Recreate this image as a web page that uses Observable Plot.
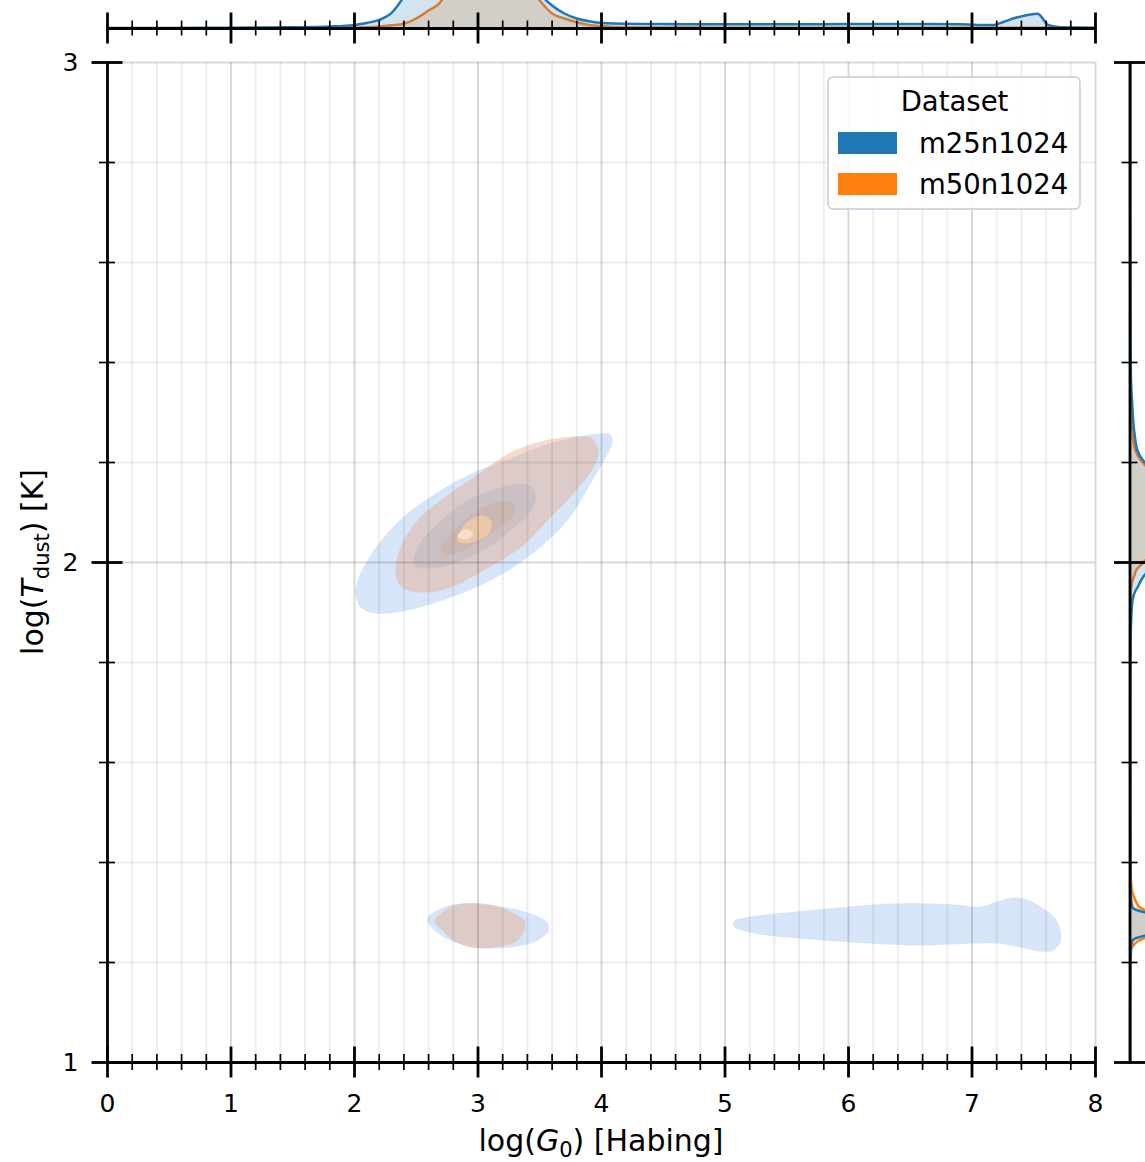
<!DOCTYPE html>
<html><head><meta charset="utf-8">
<script src="https://cdn.jsdelivr.net/npm/d3@7"></script>
<script src="https://cdn.jsdelivr.net/npm/@observablehq/plot@0.6"></script>
<style>
html,body{margin:0;padding:0;background:#fff;}
#wrap{position:relative;width:1145px;height:1162px;overflow:hidden;font-family:"DejaVu Sans",sans-serif;color:#000;}
#wrap svg{position:absolute;left:0;top:0;}
</style></head><body><div id="wrap"></div>
<script>
// ---------------- data ----------------
const datasets = ["m25n1024", "m50n1024"];
const colors = ["#1f77b4", "#ff7f0e"];
const xMajor = [0, 1, 2, 3, 4, 5, 6, 7, 8];
const yMajor = [1, 2, 3];
const xLabel = ["log(", "G", "0", ") [Habing]"];
const yLabel = ["log(", "T", "dust", ") [K]"];
const legendTitle = "Dataset";

// 2D KDE contour outlines (log G0, log Tdust)
const m25MainL1 = [[2.008,1.938],[2.024,1.964],[2.105,2.004],[2.235,2.05],[2.429,2.098],[2.696,2.144],[2.964,2.18],[3.182,2.2],[3.506,2.232],[3.773,2.25],[3.992,2.258],[4.073,2.256],[4.089,2.24],[4.057,2.22],[3.935,2.168],[3.725,2.084],[3.401,2.01],[3.101,1.964],[2.777,1.93],[2.429,1.904],[2.186,1.898],[2.049,1.91]];
const m25MainL2 = [[2.478,2.004],[2.518,2.034],[2.640,2.07],[2.777,2.1],[2.915,2.124],[3.182,2.15],[3.401,2.156],[3.466,2.14],[3.441,2.108],[3.263,2.064],[3.045,2.024],[2.834,2.0],[2.615,1.988],[2.494,1.992]];
const m25LowL1 = [[2.591,1.288],[2.696,1.308],[2.858,1.318],[3.126,1.314],[3.401,1.3],[3.563,1.28],[3.571,1.264],[3.482,1.244],[3.263,1.23],[2.996,1.23],[2.777,1.244],[2.632,1.268]];
const m25RightL1 = [[5.069,1.282],[5.206,1.292],[5.506,1.3],[5.911,1.31],[6.397,1.318],[6.850,1.316],[7.069,1.312],[7.206,1.322],[7.336,1.33],[7.449,1.326],[7.579,1.308],[7.676,1.288],[7.717,1.264],[7.717,1.24],[7.660,1.224],[7.555,1.222],[7.393,1.23],[7.206,1.238],[7.012,1.238],[6.583,1.234],[6.040,1.24],[5.506,1.25],[5.206,1.26],[5.069,1.272]];
const m50MainL1 = [[2.332,1.984],[2.372,2.03],[2.51,2.084],[2.696,2.124],[2.964,2.17],[3.263,2.22],[3.506,2.242],[3.773,2.252],[3.911,2.25],[3.951,2.24],[3.976,2.218],[3.935,2.19],[3.773,2.138],[3.563,2.084],[3.344,2.03],[3.045,1.984],[2.777,1.95],[2.559,1.94],[2.397,1.948],[2.348,1.964]];
const m50MainL2 = [[2.700,2.026],[2.810,2.064],[2.980,2.102],[3.170,2.122],[3.275,2.118],[3.300,2.098],[3.200,2.074],[3.030,2.044],[2.860,2.022],[2.740,2.014]];
const m50MainL3 = [[2.830,2.048],[2.915,2.082],[3.036,2.094],[3.110,2.082],[3.085,2.056],[2.950,2.040],[2.850,2.040]];
const m50MainL4 = [[2.835,2.052],[2.895,2.066],[2.960,2.058],[2.905,2.046]];
const m50LowL1 = [[2.648,1.282],[2.753,1.308],[2.883,1.318],[3.045,1.318],[3.206,1.308],[3.385,1.28],[3.320,1.244],[3.126,1.23],[2.939,1.23],[2.802,1.244],[2.713,1.264]];

// marginal KDE of log G0 (top)
const margGrid = [0,0.5,1.0,1.5,1.8,2.0,2.1,2.2,2.3,2.4,2.5,2.6,2.7,2.8,2.9,3.0,3.1,3.2,3.3,3.4,3.5,3.6,3.7,3.8,3.9,4.0,4.1,4.5,5.0,5.5,6.0,6.5,6.9,7.05,7.18,7.26,7.34,7.45,7.53,7.62,7.7,7.85,8.0];
const margG_m25 = [0.003,0.003,0.004,0.006,0.01,0.018,0.028,0.043,0.078,0.16,0.27,0.42,0.6,0.75,0.86,0.9,0.86,0.72,0.52,0.32,0.18,0.115,0.075,0.05,0.036,0.028,0.025,0.022,0.021,0.021,0.022,0.023,0.021,0.018,0.018,0.034,0.051,0.0675,0.074,0.017,0.008,0.005,0.004];
const margG_m50 = [0.001,0.001,0.001,0.002,0.003,0.004,0.006,0.01,0.016,0.024,0.05,0.09,0.135,0.3,0.5,0.65,0.7,0.62,0.42,0.22,0.14,0.075,0.05,0.031,0.018,0.012,0.008,0.005,0.004,0.004,0.004,0.004,0.004,0.004,0.004,0.004,0.004,0.004,0.004,0.004,0.004,0.003,0.003];

// marginal KDE of log Tdust (right)
const margTGrid = [1.0,1.1,1.2,1.224,1.232,1.238,1.244,1.25,1.254,1.265,1.28,1.29,1.3,1.304,1.31,1.324,1.34,1.36,1.42,1.6,1.72,1.8,1.864,1.898,1.924,1.944,1.95,1.964,1.978,1.984,1.998,2.012,2.05,2.1,2.15,2.184,2.198,2.21,2.224,2.258,2.324,2.364,2.464,2.6,2.8,3.0];
const margT_m25 = [0.001,0.001,0.002,0.005,0.005,0.008,0.0125,0.04,0.078,0.2,0.25,0.2,0.078,0.04,0.0125,0.006,0.004,0.003,0.002,0.0015,0.0015,0.002,0.004,0.0075,0.0125,0.028,0.0375,0.055,0.08,0.1,0.18,0.3,0.5,0.6,0.4,0.125,0.08,0.055,0.0375,0.0225,0.01,0.005,0.0025,0.0015,0.001,0.001];
const margT_m50 = [0.001,0.001,0.002,0.004,0.0125,0.025,0.045,0.078,0.1,0.2,0.25,0.2,0.1,0.078,0.05,0.0275,0.0125,0.005,0.002,0.001,0.001,0.001,0.001,0.002,0.003,0.004,0.006,0.0125,0.025,0.03,0.0625,0.1,0.5,0.65,0.5,0.11,0.0675,0.045,0.0275,0.012,0.004,0.0015,0.001,0.001,0.001,0.001];

// ---------------- derived ----------------
const subdiv = (maj) => maj.slice(0, -1).flatMap(a => [0.2, 0.4, 0.6, 0.8].map(f => a + f * (maj[1] - maj[0])));
const xMinor = subdiv(xMajor);
const yMinor = subdiv(yMajor);
const topData = margGrid.map((x, i) => ({x, m25: margG_m25[i], m50: margG_m50[i]}));
const rightData = margTGrid.map((t, i) => ({t, m25: margT_m25[i], m50: margT_m50[i]}));

const W = 1145, H = 1162;
const M = {left: 107, right: 50, top: 62, bottom: 100};
const FONT = "DejaVu Sans";
const TICKFS = 25, LABELFS = 30;
const majW = 2.8, minW = 1.7, majL = 15.5, minL = 8;

const contourLayers = [
  {pts: m25MainL1, fill: "rgb(214,230,248)", op: 1},
  {pts: m25LowL1, fill: "rgb(214,230,248)", op: 1},
  {pts: m25RightL1, fill: "rgb(214,230,248)", op: 1},
  {pts: m25MainL2, fill: "rgb(186,214,240)", op: 1},
  {pts: m50MainL1, fill: "rgb(229,160,127)", op: 0.39},
  {pts: m50LowL1, fill: "rgb(229,160,127)", op: 0.39},
  {pts: m50MainL2, fill: "rgb(200,150,115)", op: 0.22},
  {pts: m50MainL3, fill: "rgb(244,204,168)", op: 0.8},
  {pts: m50MainL4, fill: "rgb(252,228,208)", op: 0.85}
];

function fixSvg(svg, left, top) {
  svg.style.position = "absolute";
  svg.style.left = left + "px";
  svg.style.top = top + "px";
  svg.style.maxWidth = "none";
  svg.style.background = "none";
  svg.style.fontFamily = FONT;
  svg.style.fontSize = TICKFS + "px";
  svg.style.overflow = "hidden";
  return svg;
}

// ---------------- main panel ----------------
const main = Plot.plot({
  width: W, height: H,
  marginLeft: M.left, marginRight: M.right, marginTop: M.top, marginBottom: M.bottom,
  x: {domain: [0, 8]},
  y: {domain: [1, 3]},
  marks: [
    ...contourLayers.map(L => Plot.line(L.pts, {x: d => d[0], y: d => d[1], fill: L.fill, fillOpacity: L.op, stroke: "none", curve: "catmull-rom-closed"})),
    // grid
    Plot.ruleX(xMinor, {y1: 1, y2: 3, stroke: "#000", strokeOpacity: 0.07, strokeWidth: 2}),
    Plot.ruleY(yMinor, {x1: 0, x2: 8, stroke: "#000", strokeOpacity: 0.07, strokeWidth: 2}),
    Plot.ruleX(xMajor, {y1: 1, y2: 3, stroke: "#000", strokeOpacity: 0.15, strokeWidth: 2}),
    Plot.ruleY(yMajor, {x1: 0, x2: 8, stroke: "#000", strokeOpacity: 0.15, strokeWidth: 2}),
    // tick labels
    Plot.axisX({ticks: xMajor, anchor: "bottom", tickSize: 0, tickPadding: 32, fontSize: TICKFS, label: null, tickFormat: d => String(d)}),
    Plot.axisY({ticks: yMajor, anchor: "left", tickSize: 0, tickPadding: 29, fontSize: TICKFS, label: null, tickFormat: d => String(d)}),
    // spines
    Plot.ruleY([1], {x1: 0, x2: 8, stroke: "#000", strokeWidth: majW}),
    Plot.ruleX([0], {y1: 1, y2: 3, stroke: "#000", strokeWidth: majW}),
    // ticks (in-out)
    Plot.ruleX(xMinor, {y1: 1, y2: 1, insetTop: -minL, insetBottom: -minL, stroke: "#000", strokeWidth: minW}),
    Plot.ruleX(xMajor, {y1: 1, y2: 1, insetTop: -majL, insetBottom: -majL, stroke: "#000", strokeWidth: majW}),
    Plot.ruleY(yMinor, {x1: 0, x2: 0, insetLeft: -minL, insetRight: -minL, stroke: "#000", strokeWidth: minW}),
    Plot.ruleY(yMajor, {x1: 0, x2: 0, insetLeft: -majL, insetRight: -majL, stroke: "#000", strokeWidth: majW})
  ]
});
fixSvg(main, 0, 0);
d3.select(main).selectAll("text").attr("font-size", TICKFS);

// axis titles with italic symbols and subscripts
const sx = main.scale("x"), sy = main.scale("y");
const ms = d3.select(main);
const xl = ms.append("text").attr("x", sx.apply(4)).attr("y", H - 11)
  .attr("text-anchor", "middle").attr("font-size", LABELFS).attr("font-family", FONT).attr("fill", "#000");
xl.append("tspan").text(xLabel[0]);
xl.append("tspan").attr("font-style", "italic").text(xLabel[1]);
xl.append("tspan").attr("font-size", LABELFS * 0.7).attr("dy", 6).text(xLabel[2]);
xl.append("tspan").attr("dy", -6).text(xLabel[3]);
const yl = ms.append("text").attr("transform", "rotate(-90)").attr("x", -sy.apply(2)).attr("y", 43)
  .attr("text-anchor", "middle").attr("font-size", LABELFS).attr("font-family", FONT).attr("fill", "#000");
yl.append("tspan").text(yLabel[0]);
yl.append("tspan").attr("font-style", "italic").text(yLabel[1]);
yl.append("tspan").attr("font-size", LABELFS * 0.7).attr("dy", 6).text(yLabel[2]);
yl.append("tspan").attr("dy", -6).text(yLabel[3]);

// ---------------- top marginal ----------------
const TOPH = 220, TOPMB = 20, TOPBASE = 27.5;
const topPlot = Plot.plot({
  width: W, height: TOPH,
  marginLeft: M.left, marginRight: M.right, marginTop: 0, marginBottom: TOPMB,
  x: {domain: [0, 8], axis: null},
  y: {domain: [0, 1], axis: null},
  marks: [
    Plot.areaY(topData, {x: "x", y: "m50", fill: colors[1], fillOpacity: 0.2, curve: "monotone-x"}),
    Plot.lineY(topData, {x: "x", y: "m50", stroke: colors[1], strokeWidth: 2.5, curve: "monotone-x"}),
    Plot.areaY(topData, {x: "x", y: "m25", fill: colors[0], fillOpacity: 0.2, curve: "monotone-x"}),
    Plot.lineY(topData, {x: "x", y: "m25", stroke: colors[0], strokeWidth: 2.5, curve: "monotone-x"}),
    Plot.ruleY([0], {x1: 0, x2: 8, stroke: "#000", strokeWidth: majW}),
    Plot.ruleX(xMinor, {y1: 0, y2: 0, insetTop: -7.5, insetBottom: -7.5, stroke: "#000", strokeWidth: minW}),
    Plot.ruleX(xMajor, {y1: 0, y2: 0, insetTop: -majL, insetBottom: -majL, stroke: "#000", strokeWidth: majW})
  ]
});
fixSvg(topPlot, 0, TOPBASE - (TOPH - TOPMB));

// ---------------- right marginal ----------------
const RBASE = 1129.5, RW = 200;
const rightPlot = Plot.plot({
  width: RBASE + RW + 15, height: H,
  marginLeft: RBASE, marginRight: 15, marginTop: M.top, marginBottom: M.bottom,
  x: {domain: [0, 1], axis: null},
  y: {domain: [1, 3], axis: null},
  marks: [
    Plot.areaX(rightData, {y: "t", x: "m50", fill: colors[1], fillOpacity: 0.2, curve: "monotone-y"}),
    Plot.lineX(rightData, {y: "t", x: "m50", stroke: colors[1], strokeWidth: 2.5, curve: "monotone-y"}),
    Plot.areaX(rightData, {y: "t", x: "m25", fill: colors[0], fillOpacity: 0.2, curve: "monotone-y"}),
    Plot.lineX(rightData, {y: "t", x: "m25", stroke: colors[0], strokeWidth: 2.5, curve: "monotone-y"}),
    Plot.ruleX([0], {y1: 1, y2: 3, stroke: "#000", strokeWidth: majW}),
    Plot.ruleY(yMinor, {x1: 0, x2: 0, insetLeft: -minL, insetRight: -minL, stroke: "#000", strokeWidth: minW}),
    Plot.ruleY(yMajor, {x1: 0, x2: 0, insetLeft: -majL, insetRight: -majL, stroke: "#000", strokeWidth: majW})
  ]
});
fixSvg(rightPlot, 0, 0);

const wrap = document.getElementById("wrap");
wrap.appendChild(main);
wrap.appendChild(topPlot);
wrap.appendChild(rightPlot);

// ---------------- legend ----------------
const lg = d3.select(wrap).append("svg").attr("width", 256).attr("height", 138)
  .style("position", "absolute").style("left", "826px").style("top", "75px");
lg.append("rect").attr("x", 2).attr("y", 2).attr("width", 252).attr("height", 132).attr("rx", 5)
  .attr("fill", "#fff").attr("fill-opacity", 0.85).attr("stroke", "#cccccc").attr("stroke-width", 1.5);
lg.append("text").attr("x", 128.5).attr("y", 36).attr("text-anchor", "middle").attr("font-size", 27.5)
  .attr("font-family", FONT).text(legendTitle);
datasets.forEach((name, i) => {
  const y0 = 57 + i * 41;
  lg.append("rect").attr("x", 12).attr("y", y0).attr("width", 59).attr("height", 22).attr("fill", colors[i]);
  lg.append("text").attr("x", 93).attr("y", y0 + 21).attr("font-size", 27.5).attr("font-family", FONT).text(name);
});
</script></body></html>
